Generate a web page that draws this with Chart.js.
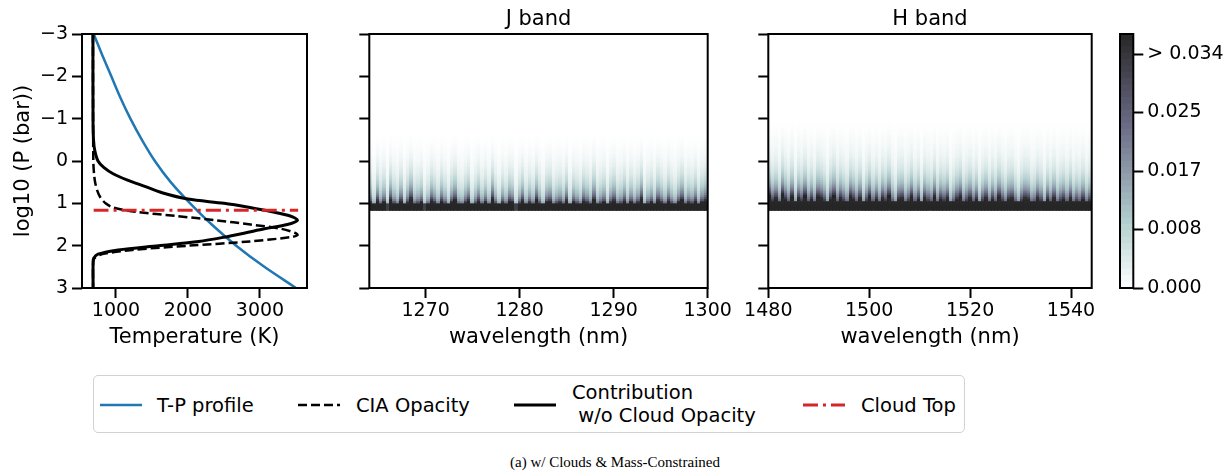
<!DOCTYPE html>
<html>
<head>
<meta charset="utf-8">
<script src="https://cdn.jsdelivr.net/npm/chart.js@4/dist/chart.umd.min.js"></script>
<style>
  html, body { margin: 0; padding: 0; background: #fff; }
  body { width: 1230px; height: 476px; position: relative; overflow: hidden; font-family: 'DejaVu Sans', sans-serif; }
  canvas { position: absolute; top: 0; }
  #legend { position: absolute; left: 93px; top: 375px; width: 872px; height: 58px;
            border: 1.5px solid #d2d2d2; border-radius: 5px; box-sizing: border-box; }
  .item { position: absolute; font-size: 19.5px; line-height: 23px; color: #000; white-space: pre; }
  .swatch { position: absolute; top: 26px; }
  #caption { position: absolute; left: 0; width: 1230px; top: 454px; text-align: center;
             font-family: 'Liberation Serif', 'Times New Roman', serif; font-size: 15px; line-height: 17px; }
</style>
</head>
<body>
<canvas id="tp" style="left:0px" width="330" height="360"></canvas>
<canvas id="jband" style="left:330px" width="420" height="360"></canvas>
<canvas id="hband" style="left:740px" width="380" height="360"></canvas>
<canvas id="cbar" style="left:1100px" width="130" height="360"></canvas>

<div id="legend">
  <svg class="swatch" style="left:6px" width="42" height="6"><line x1="0" y1="3" x2="42" y2="3" stroke="#1f77b4" stroke-width="2.5"/></svg>
  <div class="item" style="left:63px; top:18px">T-P profile</div>
  <svg class="swatch" style="left:204px" width="42" height="6"><line x1="0" y1="3" x2="42" y2="3" stroke="#000" stroke-width="2.5" stroke-dasharray="9 4"/></svg>
  <div class="item" style="left:262px; top:18px">CIA Opacity</div>
  <svg class="swatch" style="left:420px" width="42" height="6"><line x1="0" y1="3" x2="42" y2="3" stroke="#000" stroke-width="3"/></svg>
  <div class="item" style="left:478px; top:5px">Contribution
 w/o Cloud Opacity</div>
  <svg class="swatch" style="left:709px" width="42" height="6"><line x1="0" y1="3" x2="42" y2="3" stroke="#d62728" stroke-width="3" stroke-dasharray="15 5 3 5"/></svg>
  <div class="item" style="left:767px; top:18px">Cloud Top</div>
</div>
<div id="caption">(a) w/ Clouds &amp; Mass-Constrained</div>

<script>
// axis ticks
const pTicks = [-3, -2, -1, 0, 1, 2, 3];
const tempTicks = [1000, 2000, 3000];
const jTicks = [1270, 1280, 1290, 1300];
const hTicks = [1480, 1500, 1520, 1540];
const cbarTicks = [0, 0.00845, 0.0169, 0.02535, 0.0338];
const cbarLabels = ['0.000', '0.008', '0.017', '0.025', '> 0.034'];
const cbarMax = 0.0367;

// temperature-pressure profile
const tpLogP = [-3, -2.5, -2, -1.5, -1, -0.5, 0, 0.5, 1, 1.5, 2, 2.5, 3];
const tpTemp = [690, 810, 935, 1060, 1200, 1360, 1540, 1760, 2030, 2330, 2670, 3060, 3500];

// contribution function without cloud opacity, scaled onto the temperature axis
const contribLogP = [-3, -1, -0.5, -0.25, 0, 0.15, 0.3, 0.45, 0.6, 0.75, 0.9, 1.0, 1.1, 1.2, 1.3, 1.4, 1.5, 1.6, 1.7, 1.8, 1.9, 2.0, 2.1, 2.2, 2.3, 2.4, 3];
const contribTemp = [680, 681, 688, 705, 750, 830, 960, 1160, 1400, 1640, 2000, 2500, 2860, 3170, 3420, 3521, 3380, 3062, 2790, 2500, 2150, 1590, 1030, 750, 690, 682, 682];

// CIA opacity, same scaling
const ciaLogP = [-3, 0, 0.3, 0.5, 0.7, 0.85, 1.0, 1.1, 1.2, 1.3, 1.4, 1.5, 1.6, 1.7, 1.75, 1.8, 1.9, 2.0, 2.1, 2.2, 2.3, 2.4, 3];
const ciaTemp = [680, 685, 695, 710, 740, 780, 855, 960, 1285, 1840, 2390, 2870, 3290, 3490, 3521, 3420, 2860, 2010, 1230, 810, 700, 683, 682];

const cloudTopLogP = 1.163;
const cloudSpan = [690, 3530];

// contribution maps: per-layer mean (x1e-3) and per-column strength (tenths)
const heatLogP = [-0.9, -0.85, -0.8, -0.75, -0.7, -0.65, -0.6, -0.55, -0.5, -0.45, -0.4, -0.35, -0.3, -0.25, -0.2, -0.15, -0.1, -0.05, 0, 0.05, 0.1, 0.15, 0.2, 0.25, 0.3, 0.35, 0.4, 0.45, 0.5, 0.55, 0.6, 0.65, 0.7, 0.75, 0.8, 0.85, 0.9, 0.95, 1.0, 1.05, 1.1, 1.15];
const jProfile = [0, 0, 0, 0, 0, 0, 0.1, 0.17, 0.24, 0.32, 0.4, 0.5, 0.6, 0.7, 0.85, 1.0, 1.2, 1.4, 1.6, 1.9, 2.1, 2.5, 2.8, 3.1, 3.6, 4.1, 4.6, 5.3, 6.0, 6.8, 7.8, 9.0, 10.5, 12, 14, 17, 21, 28, 80, 80, 80, 80];
const hProfile = [0.15, 0.21, 0.27, 0.35, 0.42, 0.51, 0.6, 0.7, 0.83, 0.95, 1.1, 1.25, 1.4, 1.6, 1.8, 2.0, 2.25, 2.55, 2.85, 3.2, 3.6, 4.0, 4.5, 5.1, 5.8, 6.5, 7.4, 8.4, 9.6, 11, 12.5, 14.5, 17, 20, 23, 27, 32, 80, 80, 80, 80, 80];
const jStreak = [12, 5, 16, 8, 13, 4, 18, 10, 7, 15, 5, 12, 20, 8, 10, 13, 4, 8, 16, 12, 7, 15, 10, 5, 13, 18, 8, 7, 12, 16, 5, 10, 15, 8, 13, 7, 20, 10, 5, 12, 8, 15, 13, 4, 10, 16, 7, 12, 8, 18, 10, 5, 13, 15, 7, 10, 12, 8, 16, 5, 13, 10, 7, 15, 12, 8, 18, 7, 10, 13, 5, 12, 16, 8, 10, 15, 7, 13, 8, 12, 20, 5, 10, 13, 7, 16, 12, 8, 15, 10, 7, 13, 18, 8, 12, 10, 15, 7, 13, 16];
const hStreak = [16, 10, 13, 7, 18, 12, 8, 15, 5, 13, 10, 16, 8, 12, 7, 15, 13, 10, 5, 12, 16, 8, 13, 10, 7, 15, 12, 8, 13, 5, 10, 15, 8, 12, 7, 13, 10, 16, 8, 5, 12, 13, 7, 10, 15, 8, 12, 5, 13, 10, 8, 15, 7, 12, 10, 13, 5, 8, 12, 15, 7, 10, 13, 8, 12, 5, 10, 13, 7, 12, 8, 15, 10, 7, 12, 13, 8, 5, 10, 13, 12, 7, 8, 13, 10, 5, 12, 8, 13, 7, 10, 12, 8, 13, 7, 10, 8, 12, 7, 10];
const jRange = [1264, 1300];
const hRange = [1480, 1544.1];

Chart.defaults.font.family = "'DejaVu Sans', sans-serif";
Chart.defaults.color = '#000';

// matplotlib 'bone' colormap, reversed, drawn at 85% opacity on white
function bone(t) {
  const r = t < 0.746032 ? 0.652778 * t / 0.746032 : 0.652778 + (t - 0.746032) / 0.253968 * 0.347222;
  const g = t < 0.365079 ? 0.319444 * t / 0.365079
          : t < 0.746032 ? 0.319444 + (t - 0.365079) / 0.380953 * 0.458334
          : 0.777778 + (t - 0.746032) / 0.253968 * 0.222222;
  const b = t < 0.365079 ? 0.444444 * t / 0.365079 : 0.444444 + (t - 0.365079) / 0.634921 * 0.555556;
  return [r, g, b];
}
function colour(v) {
  const t = Math.min(1, Math.max(0, v / cbarMax));
  const a = 0.85;
  const c = bone(1 - t).map(k => Math.round(255 * (k * a + 1 - a)));
  return `rgb(${c[0]},${c[1]},${c[2]})`;
}

const xy = (xs, ys) => xs.map((x, i) => ({ x, y: ys[i] }));
const fixTicks = values => scale => { scale.ticks = values.map(value => ({ value })); };
const pLabel = v => (v < 0 ? '\u2212' + Math.abs(v) : String(v));

const tickGrid = { drawOnChartArea: false, drawTicks: true, tickLength: 10, tickWidth: 2, tickColor: '#000' };
const tickFont = { size: 19 };
const titleFont = { size: 21 };

const frame = {
  id: 'frame',
  afterDraw(chart) {
    const { ctx, chartArea: a } = chart;
    ctx.save();
    ctx.strokeStyle = '#000';
    ctx.lineWidth = 2;
    ctx.strokeRect(a.left, a.top, a.right - a.left, a.bottom - a.top);
    ctx.restore();
  }
};

function pressureAxis(width, showLabels) {
  return {
    type: 'linear', reverse: true, min: -3, max: 3,
    afterBuildTicks: fixTicks(pTicks),
    afterFit: s => { s.width = width; },
    grid: tickGrid, border: { display: false },
    ticks: { display: showLabels, font: tickFont, padding: 4, autoSkip: false, callback: pLabel },
    title: { display: showLabels, text: 'log10 (P (bar))', font: titleFont, padding: { top: 11, bottom: 0 } }
  };
}

function bottomAxis(min, max, ticks, label) {
  return {
    type: 'linear', min, max,
    afterBuildTicks: fixTicks(ticks),
    afterFit: s => { s.height = 62; },
    grid: tickGrid, border: { display: false },
    ticks: { font: tickFont, padding: 2, autoSkip: false, maxRotation: 0, callback: v => String(v) },
    title: { display: true, text: label, font: titleFont, padding: { top: 1.5, bottom: 0 } }
  };
}

const line = (data, colour, width, dash, order) => ({
  data, borderColor: colour, borderWidth: width, borderDash: dash, showLine: true,
  pointRadius: 0, tension: 0.3, fill: false, order
});

// temperature panel
new Chart(document.getElementById('tp'), {
  type: 'scatter',
  data: {
    datasets: [
      line(xy(tpTemp, tpLogP), '#1f77b4', 2.5, [], 4),
      line(xy(ciaTemp, ciaLogP), '#000', 2.5, [9, 4], 3),
      line(xy(contribTemp, contribLogP), '#000', 3, [], 2),
      line(xy(cloudSpan, [cloudTopLogP, cloudTopLogP]), '#d62728', 3, [15, 5, 3, 5], 1)
    ]
  },
  options: {
    responsive: false, animation: false,
    layout: { padding: { top: 34, right: 23, bottom: 10, left: 0 } },
    plugins: { legend: { display: false }, tooltip: { enabled: false } },
    scales: {
      x: bottomAxis(528, 3653, tempTicks, 'Temperature (K)'),
      y: pressureAxis(82, true)
    }
  },
  plugins: [frame]
});

// contribution map drawn cell by cell through the chart scales
function heatmapLayer(profile, streak, range) {
  return {
    id: 'heatmap',
    beforeDatasetsDraw(chart) {
      const { ctx, chartArea: a, scales: { x, y } } = chart;
      ctx.save();
      ctx.beginPath();
      ctx.rect(a.left, a.top, a.right - a.left, a.bottom - a.top);
      ctx.clip();
      ctx.fillStyle = colour(0);
      ctx.fillRect(a.left, a.top, a.right - a.left, a.bottom - a.top);
      const dw = (range[1] - range[0]) / streak.length;
      streak.forEach((s, i) => {
        const x0 = Math.floor(x.getPixelForValue(range[0] + i * dw));
        const x1 = Math.ceil(x.getPixelForValue(range[0] + (i + 1) * dw));
        heatLogP.forEach((p, j) => {
          const v = profile[j] * s / 10 * 1e-3;
          if (v <= 0) return;
          const pNext = j + 1 < heatLogP.length ? heatLogP[j + 1] : cloudTopLogP;
          const y0 = y.getPixelForValue(p);
          const y1 = y.getPixelForValue(pNext);
          ctx.fillStyle = colour(v);
          ctx.fillRect(x0, y0, x1 - x0, y1 - y0 + 0.6);
        });
      });
      ctx.restore();
    }
  };
}

function bandChart(id, title, range, ticks, profile, streak, yWidth, padRight) {
  new Chart(document.getElementById(id), {
    type: 'scatter',
    data: { datasets: [] },
    options: {
      responsive: false, animation: false,
      layout: { padding: { top: 0, right: padRight, bottom: 10, left: 0 } },
      plugins: {
        legend: { display: false }, tooltip: { enabled: false },
        title: { display: true, text: title, fullSize: false, font: { size: 21, weight: 'normal' }, color: '#000', padding: { top: 7.4, bottom: 1.4 } }
      },
      scales: {
        x: bottomAxis(range[0], range[1], ticks, 'wavelength (nm)'),
        y: pressureAxis(yWidth, false)
      }
    },
    plugins: [heatmapLayer(profile, streak, range), frame]
  });
}

bandChart('jband', 'J band', jRange, jTicks, jProfile, jStreak, 39.3, 42.3);
bandChart('hband', 'H band', hRange, hTicks, hProfile, hStreak, 28.3, 28.3);

// colour bar: stacked steps of the colour scale
const cbarLevels = 40;
new Chart(document.getElementById('cbar'), {
  type: 'bar',
  data: {
    labels: [''],
    datasets: Array.from({ length: cbarLevels }, (_, k) => ({
      data: [cbarMax / cbarLevels],
      backgroundColor: colour((k + 0.5) * cbarMax / cbarLevels),
      borderWidth: 0, barPercentage: 1, categoryPercentage: 1, inflateAmount: 0.4
    }))
  },
  options: {
    responsive: false, animation: false,
    layout: { padding: { top: 34, right: 0, bottom: 72, left: 20 } },
    plugins: { legend: { display: false }, tooltip: { enabled: false } },
    scales: {
      x: { display: false, stacked: true },
      y: {
        position: 'right', stacked: true, min: 0, max: cbarMax,
        afterBuildTicks: fixTicks(cbarTicks),
        afterFit: s => { s.width = 96.7; },
        grid: tickGrid, border: { display: false },
        ticks: { font: tickFont, padding: 4, autoSkip: false, callback: (v, i) => cbarLabels[i] }
      }
    }
  },
  plugins: [frame]
});
</script>
</body>
</html>
